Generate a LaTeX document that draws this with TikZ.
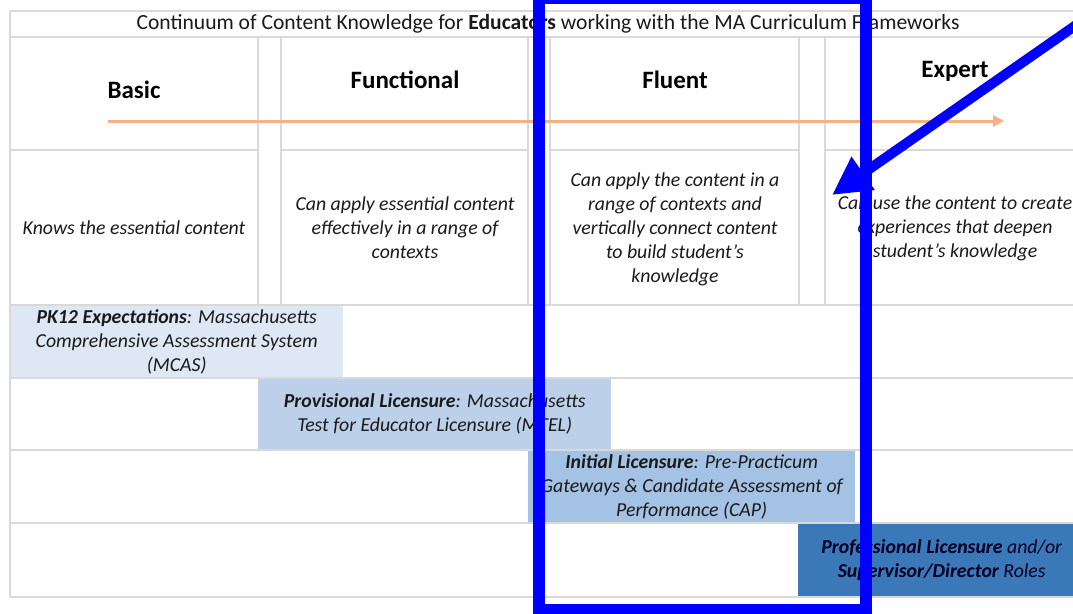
\documentclass[tikz,border=0pt]{standalone}
\usepackage{fontspec}
\setmainfont{Carlito}
\usetikzlibrary{arrows.meta}

\definecolor{gridgray}{HTML}{D9D9D9}
\definecolor{pkfill}{HTML}{DEE8F4}
\definecolor{provfill}{HTML}{BDD0E9}
\definecolor{initfill}{HTML}{A4C2E4}
\definecolor{proffill}{HTML}{3A78B8}
\definecolor{flowcol}{HTML}{F4B183}
\definecolor{markblue}{HTML}{0000FF}
\definecolor{ink}{HTML}{1A1A1A}

\begin{document}
\begin{tikzpicture}[x=1pt,y=-1pt,
  grid/.style={draw=gridgray,line width=1.3pt},
  titletext/.style={font=\fontsize{21.6}{24}\selectfont, text=ink, inner sep=0pt},
  head/.style={font=\fontsize{25}{28}\selectfont\bfseries, text=black, inner sep=0pt},
  desc/.style={font=\fontsize{19.8}{24}\selectfont\itshape, align=center, text=ink, inner sep=0pt},
  band/.style={draw=none, anchor=north west, inner sep=0pt, align=center,
    font=\fontsize{19.8}{24}\selectfont\itshape, text=ink},
  flowarrow/.style={draw=flowcol, line width=3pt, -{Triangle[length=11pt,width=11pt]}},
  focusbox/.style={draw=markblue, line width=12pt, inner sep=0pt, fill=none},
  pointer/.style={draw=markblue, fill=markblue, line width=10pt, -{Triangle[length=38pt,width=38pt]}}
]
\useasboundingbox (0,0) rectangle (1073,613);
\fill[white] (0,0) rectangle (1073,613);
\clip (0,0) rectangle (1073,613);

% coloured licensure bands
\node[band, fill=pkfill, minimum width=333pt, minimum height=73pt] (pk) at (10,305)
  {\textbf{PK12 Expectations}: Massachusetts\\Comprehensive Assessment System\\(MCAS)};
\node[band, fill=provfill, minimum width=353pt, minimum height=72pt] (prov) at (258,378)
  {\textbf{Provisional Licensure}: Massachusetts\\Test for Educator Licensure (MTEL)};
\node[band, fill=initfill, minimum width=327pt, minimum height=73pt] (init) at (528,450)
  {\textbf{Initial Licensure}: Pre-Practicum\\Gateways \& Candidate Assessment of\\Performance (CAP)};
\node[band, fill=proffill, minimum width=287pt, minimum height=74pt, text=black!85!blue] (prof) at (798,523)
  {\textbf{Professional Licensure} and/or\\\textbf{Supervisor/Director} Roles};

% table rules
\draw[grid] (10,11) -- (1080,11);
\draw[grid] (10,37) -- (1080,37);
\draw[grid] (10,11) -- (10,597);
\foreach \x in {258,281,528,550,799,825}
  \draw[grid] (\x,37) -- (\x,305);
\draw[grid] (10,150) -- (258,150);
\draw[grid] (281,150) -- (528,150);
\draw[grid] (550,150) -- (799,150);
\draw[grid] (825,150) -- (1080,150);
\foreach \y in {305,378,450,523,597}
  \draw[grid] (10,\y) -- (1080,\y);

% title
\node[titletext] (title) at (548,24)
  {Continuum of Content Knowledge for \textbf{Educators} working with the MA Curriculum Frameworks};

% level headings
\node[head] (basic) at (134,90) {Basic};
\node[head] (functional) at (405,80) {Functional};
\node[head] (fluent) at (675,80) {Fluent};
\node[head] (expert) at (955,71) {Expert};

% progression arrow
\coordinate (flowstart) at (108,121);
\coordinate (flowend) at (1004,121);
\draw[flowarrow] (flowstart) -- (flowend);

% level descriptions
\node[desc] (dbasic) at (134,228) {Knows the essential content};
\node[desc] (dfunctional) at (405,228) {Can apply essential content\\effectively in a range of\\contexts};
\node[desc] (dfluent) at (675,229) {Can apply the content in a\\range of contexts and\\vertically connect content\\to build student’s\\knowledge};
\node[desc] (dexpert) at (955,228) {Can use the content to create\\experiences that deepen\\student’s knowledge};

% highlight frame and pointer
\node[focusbox, minimum width=327pt, minimum height=612pt] (focus) at (702.5,304) {};
\coordinate (pointerstart) at (1092,14);
\coordinate (pointertip) at (832,195);
\draw[pointer] (pointerstart) -- (pointertip);
\end{tikzpicture}
\end{document}
